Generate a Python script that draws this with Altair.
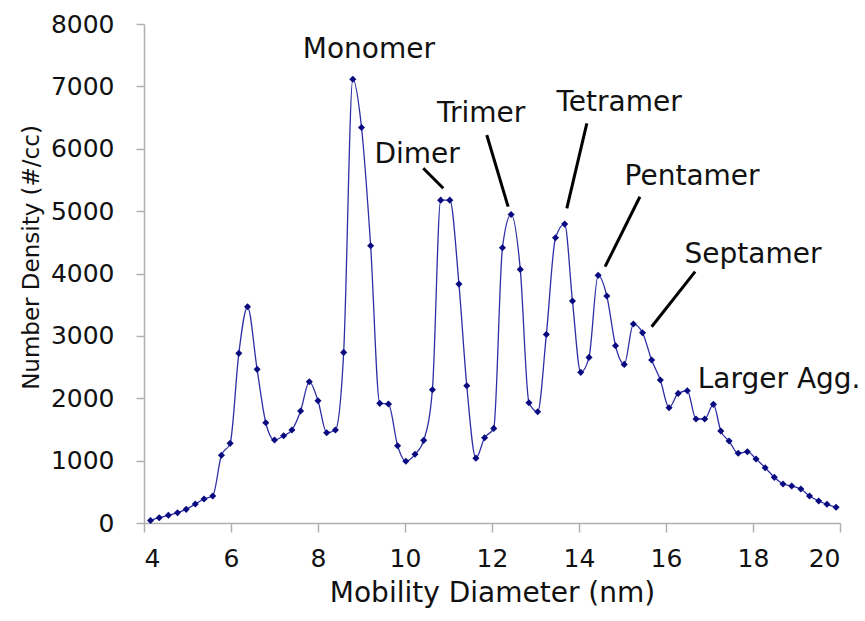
import altair as alt
import pandas as pd

# Mobility diameter (nm) and number density (#/cc)
diameter = [4.15, 4.35, 4.56, 4.77, 4.97, 5.18, 5.38, 5.58, 5.78, 5.98,
            6.18, 6.38, 6.60, 6.80, 7.00, 7.21, 7.40, 7.60, 7.80, 8.00,
            8.20, 8.40, 8.59, 8.80, 9.00, 9.21, 9.42, 9.62, 9.83, 10.02,
            10.23, 10.43, 10.63, 10.82, 11.03, 11.24, 11.42, 11.63, 11.83, 12.04,
            12.24, 12.44, 12.65, 12.85, 13.05, 13.25, 13.46, 13.67, 13.85, 14.04,
            14.23, 14.44, 14.64, 14.84, 15.04, 15.25, 15.46, 15.67, 15.87, 16.07,
            16.28, 16.49, 16.69, 16.89, 17.09, 17.26, 17.45, 17.66, 17.87, 18.07,
            18.28, 18.49, 18.69, 18.89, 19.10, 19.30, 19.51, 19.70, 19.91]
density = [40, 85, 123, 165, 219, 304, 385, 433, 1085, 1277,
           2720, 3466, 2463, 1607, 1330, 1399, 1490, 1795, 2264, 1960,
           1447, 1490, 2735, 7115, 6341, 4444, 1918, 1907, 1239, 989,
           1101, 1325, 2137, 5176, 5176, 3830, 2200, 1040, 1367, 1517,
           4412, 4947, 4066, 1928, 1784, 3024, 4572, 4792, 3558, 2415,
           2655, 3970, 3638, 2842, 2543, 3189, 3050, 2612, 2292, 1848,
           2078, 2120, 1667, 1667, 1902, 1474, 1314, 1117, 1143, 1026,
           886, 732, 625, 593, 545, 433, 353, 300, 252]

# Annotation labels (text anchor in data units)
labels = ["Monomer", "Dimer", "Trimer", "Tetramer", "Pentamer", "Septamer", "Larger Agg."]
label_x = [9.17, 10.28, 11.75, 14.92, 16.60, 18.00, 18.60]
label_y = [7447, 5767, 6434, 6605, 5419, 4168, 2160]

# Leader lines (data units)
lead_x1 = [10.42, 11.88, 14.18, 15.40, 16.67]
lead_y1 = [5687, 6220, 6408, 5231, 4029]
lead_x2 = [10.88, 12.37, 13.72, 14.60, 15.67]
lead_y2 = [5366, 5071, 5045, 4109, 3147]

df = pd.DataFrame({"d": diameter, "n": density})
lab = pd.DataFrame({"t": labels, "x": label_x, "y": label_y})
lead = pd.DataFrame({"x1": lead_x1, "y1": lead_y1, "x2": lead_x2, "y2": lead_y2})

xscale = alt.Scale(domain=[4, 20], nice=False, zero=False)
yscale = alt.Scale(domain=[0, 8000], nice=False)

xaxis = alt.Axis(values=[4, 6, 8, 10, 12, 14, 16, 18, 20], grid=False, format="d",
                 title="Mobility Diameter (nm)",
                 domainColor="#b0b0b0", domainWidth=1.5,
                 tickColor="#b0b0b0", tickWidth=1.5, tickSize=9,
                 labelFont="DejaVu Sans", labelFontSize=25, labelColor="#111111",
                 labelPadding=14,
                 titleFont="DejaVu Sans", titleFontSize=28, titleFontWeight="normal",
                 titleColor="#111111", titleX=348, titleY=78,
                 titleBaseline="alphabetic", titleAlign="center")
yaxis = alt.Axis(values=[0, 1000, 2000, 3000, 4000, 5000, 6000, 7000, 8000], grid=False,
                 format="d",
                 title="Number Density (#/cc)",
                 domainColor="#b0b0b0", domainWidth=1.5,
                 tickColor="#b0b0b0", tickWidth=1.5, tickSize=8,
                 labelFont="DejaVu Sans", labelFontSize=25, labelColor="#111111",
                 labelPadding=22,
                 titleFont="DejaVu Sans", titleFontSize=23, titleFontWeight="normal",
                 titleColor="#111111", titleX=-106, titleY=233, titleAngle=-90,
                 titleBaseline="alphabetic", titleAlign="center")

line = alt.Chart(df).mark_line(color="#2e2ea6", strokeWidth=1.3, interpolate="monotone").encode(
    x=alt.X("d:Q", scale=xscale, axis=xaxis),
    y=alt.Y("n:Q", scale=yscale, axis=yaxis),
)
pts = alt.Chart(df).mark_point(shape="diamond", filled=True, size=50, color="#0a0a80", opacity=1).encode(
    x=alt.X("d:Q", scale=xscale),
    y=alt.Y("n:Q", scale=yscale),
)
rules = alt.Chart(lead).mark_rule(color="black", strokeWidth=3).encode(
    x=alt.X("x1:Q", scale=xscale),
    y=alt.Y("y1:Q", scale=yscale),
    x2="x2:Q",
    y2="y2:Q",
)
texts = alt.Chart(lab).mark_text(font="DejaVu Sans", fontSize=28, color="#111111",
                                 align="center", baseline="alphabetic").encode(
    x=alt.X("x:Q", scale=xscale),
    y=alt.Y("y:Q", scale=yscale),
    text="t:N",
)

chart = alt.layer(line, pts, rules, texts).properties(
    width=696, height=499,
    autosize=alt.AutoSizeParams(type="none"),
    padding={"left": 144, "top": 24, "right": 25, "bottom": 98},
    background="white",
).configure_view(stroke=None)

chart.save("out.html", embed_options={"renderer": "svg", "actions": False})
